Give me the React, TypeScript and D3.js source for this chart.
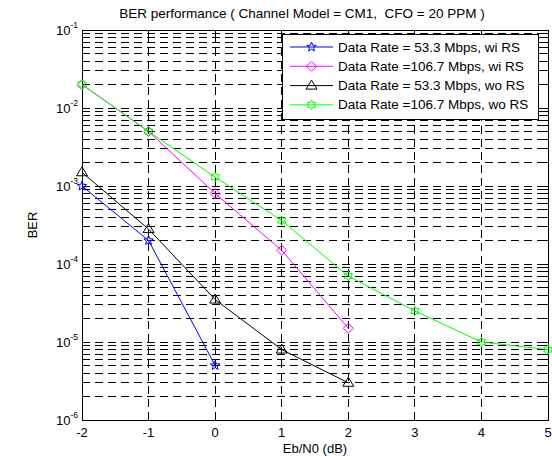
import * as d3 from "d3";

// Eb/N0 (dB) values for each curve
const ebnoShort = [-2, -1, 0];
const ebnoMid = [-2, -1, 0, 1, 2];
const ebnoLong = [-2, -1, 0, 1, 2, 3, 4, 5];

// BER
const ber533wi = [1.0e-3, 2.0e-4, 5.0e-6];
const ber1067wi = [2.0e-2, 5.0e-3, 8.0e-4, 1.5e-4, 1.5e-5];
const ber533wo = [1.5e-3, 2.8e-4, 3.5e-5, 8.0e-6, 3.0e-6];
const ber1067wo = [2.0e-2, 5.0e-3, 1.3e-3, 3.6e-4, 7.0e-5, 2.5e-5, 1.0e-5, 8.0e-6];

const seriesNames = [
  "Data Rate = 53.3 Mbps, wi RS",
  "Data Rate =106.7 Mbps, wi RS",
  "Data Rate = 53.3 Mbps, wo RS",
  "Data Rate =106.7 Mbps, wo RS",
];

const xTicks = [-2, -1, 0, 1, 2, 3, 4, 5];
const yDecades = [-6, -5, -4, -3, -2, -1];

const series = [
  { name: seriesNames[0], x: ebnoShort, y: ber533wi, color: "#0000ff", marker: "pentagram" },
  { name: seriesNames[1], x: ebnoMid, y: ber1067wi, color: "#ff00ff", marker: "diamond" },
  { name: seriesNames[2], x: ebnoMid, y: ber533wo, color: "#000000", marker: "triangle" },
  { name: seriesNames[3], x: ebnoLong, y: ber1067wo, color: "#00ff00", marker: "hexagram" },
];

const FONT = "'Liberation Sans', Arial, Helvetica, sans-serif";

const starPath = (cx: number, cy: number, r: number, n: number, ratio: number) => {
  const pts: [number, number][] = [];
  for (let i = 0; i < n * 2; i++) {
    const a = -Math.PI / 2 + (i * Math.PI) / n;
    const rr = i % 2 === 0 ? r : r * ratio;
    pts.push([cx + rr * Math.cos(a), cy + rr * Math.sin(a)]);
  }
  return d3.line()(pts) + "Z";
};

const markerPath = (type: string, cx: number, cy: number) => {
  if (type === "pentagram") return starPath(cx, cy, 5, 5, 0.42);
  if (type === "hexagram") return starPath(cx, cy, 4.8, 6, 0.58);
  if (type === "diamond")
    return `M${cx},${cy - 5}L${cx + 5},${cy}L${cx},${cy + 5}L${cx - 5},${cy}Z`;
  // triangle up
  return `M${cx},${cy - 5.5}L${cx + 5.5},${cy + 3.5}L${cx - 5.5},${cy + 3.5}Z`;
};

const Chart = () => {
  const left = 82;
  const right = 548;
  const top = 30;
  const bottom = 420;

  const xScale = d3.scaleLinear().domain([-2, 5]).range([left, right]);
  const yScale = d3.scaleLog().domain([1e-6, 1e-1]).range([bottom, top]);

  const majorY = yDecades.map((d) => Math.pow(10, d));
  const minorY: number[] = [];
  yDecades.slice(0, -1).forEach((d) => {
    for (let k = 2; k <= 9; k++) minorY.push(k * Math.pow(10, d));
  });

  const line = d3
    .line<[number, number]>()
    .x((d) => xScale(d[0]))
    .y((d) => yScale(d[1]));

  const dash = "8,5";

  // legend
  const lg = { x: 282, y: 34, w: 256, h: 85 };
  const rowY = (i: number) => lg.y + 13 + i * 19.3;

  return (
    <svg
      width={552}
      height={460}
      style={{ position: "absolute", left: 0, top: 0, background: "#fff" }}
      fontFamily={FONT}
    >
      <rect x={0} y={0} width={552} height={460} fill="#fff" />

      {/* Title */}
      <text
        x={302}
        y={18}
        textAnchor="middle"
        fontSize={13.5}
        style={{ whiteSpace: "pre" }}
      >
        BER performance ( Channel Model = CM1,  CFO = 20 PPM )
      </text>

      {/* Gridlines */}
      <g stroke="#000" strokeWidth={1} strokeDasharray={dash} shapeRendering="crispEdges">
        {xTicks.slice(1, -1).map((t) => (
          <line key={"gx" + t} x1={xScale(t)} x2={xScale(t)} y1={bottom} y2={top} />
        ))}
        {[...majorY, ...minorY]
          .filter((v) => v > 1e-6 && v < 1e-1)
          .map((v, i) => (
            <line key={"gy" + i} x1={left} x2={right} y1={yScale(v)} y2={yScale(v)} />
          ))}
      </g>

      {/* Ticks */}
      <g stroke="#000" strokeWidth={1} shapeRendering="crispEdges">
        {xTicks.map((t) => (
          <g key={"tx" + t}>
            <line x1={xScale(t)} x2={xScale(t)} y1={bottom} y2={bottom - 5} />
            <line x1={xScale(t)} x2={xScale(t)} y1={top} y2={top + 5} />
          </g>
        ))}
        {majorY.map((v, i) => (
          <g key={"ty" + i}>
            <line x1={left} x2={left + 5} y1={yScale(v)} y2={yScale(v)} />
            <line x1={right} x2={right - 5} y1={yScale(v)} y2={yScale(v)} />
          </g>
        ))}
        {minorY.map((v, i) => (
          <g key={"tm" + i}>
            <line x1={left} x2={left + 3} y1={yScale(v)} y2={yScale(v)} />
            <line x1={right} x2={right - 3} y1={yScale(v)} y2={yScale(v)} />
          </g>
        ))}
      </g>

      {/* Frame */}
      <rect
        x={left}
        y={top}
        width={right - left}
        height={bottom - top}
        fill="none"
        stroke="#000"
        strokeWidth={1}
        shapeRendering="crispEdges"
      />

      {/* X tick labels */}
      {xTicks.map((t) => (
        <text key={"lx" + t} x={xScale(t)} y={437} textAnchor="middle" fontSize={13}>
          {t}
        </text>
      ))}

      {/* Y tick labels */}
      {yDecades.map((d) => (
        <text key={"ly" + d} x={56} y={yScale(Math.pow(10, d)) + 5} fontSize={13}>
          10
          <tspan fontSize={8.5} dy={-7}>
            {d}
          </tspan>
        </text>
      ))}

      {/* Axis labels */}
      <text x={(left + right) / 2} y={453} textAnchor="middle" fontSize={13}>
        Eb/N0 (dB)
      </text>
      <text
        transform={`translate(37,${(top + bottom) / 2}) rotate(-90)`}
        textAnchor="middle"
        fontSize={13}
      >
        BER
      </text>

      {/* Curves */}
      {series.map((s) => {
        const pts = s.x.map((x, i) => [x, s.y[i]] as [number, number]);
        return (
          <g key={s.name}>
            <path d={line(pts) ?? ""} fill="none" stroke={s.color} strokeWidth={1} />
            {pts.map((p, i) => (
              <path
                key={i}
                d={markerPath(s.marker, xScale(p[0]), yScale(p[1]))}
                fill="none"
                stroke={s.color}
                strokeWidth={1}
              />
            ))}
          </g>
        );
      })}

      {/* Legend */}
      <rect
        x={lg.x}
        y={lg.y}
        width={lg.w}
        height={lg.h}
        fill="#fff"
        stroke="#000"
        strokeWidth={1}
        shapeRendering="crispEdges"
      />
      {series.map((s, i) => (
        <g key={"lg" + i}>
          <line x1={290} x2={333} y1={rowY(i)} y2={rowY(i)} stroke={s.color} strokeWidth={1} />
          <path d={markerPath(s.marker, 311.5, rowY(i))} fill="none" stroke={s.color} />
          <text x={338} y={rowY(i) + 4.5} fontSize={13.5}>
            {s.name}
          </text>
        </g>
      ))}
    </svg>
  );
};

export default function App() {
  return <Chart />;
}
